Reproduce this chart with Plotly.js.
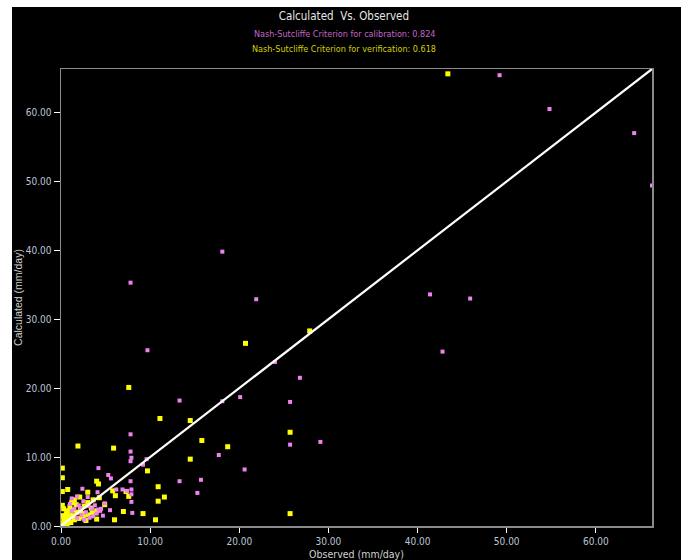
<!DOCTYPE html>
<html>
<head>
<meta charset="utf-8">
<script src="https://cdn.plot.ly/plotly-3.0.1.min.js"></script>
<style>
  html, body { margin: 0; padding: 0; background: #ffffff; width: 685px; height: 560px; overflow: hidden; }
  #chart { position: absolute; left: 12px; top: 7px; width: 669px; height: 553px; background: #000; }
</style>
</head>
<body>
<div id="chart"></div>
<script>
// Calibration (violet) observed / calculated, mm/day
const calibObserved = [66.3, 64.3, 54.8, 49.2, 41.4, 45.9, 42.8, 18.1, 21.9, 7.8, 9.7, 24.0, 26.8, 13.3, 18.1, 20.1, 25.7, 25.7, 29.1, 17.7, 9.6, 9.2, 20.6, 13.3, 15.7, 15.3, 7.8, 7.8, 7.9, 7.8, 4.2, 5.3, 5.6, 7.8, 2.4, 6.2, 6.9, 7.4, 7.9, 4.1, 7.9, 1.8, 1.2, 7.9, 4.9, 3.1, 5.5, 4.2, 8.0, 4.4, 1.5, 2.0, 2.5, 3.0, 2.8, 3.5, 4.0, 4.5, 3.8, 2.3, 1.2, 4.7, 3.2, 2.6, 1.8, 1.0, 2.2, 3.6];
const calibCalculated = [49.4, 57.0, 60.5, 65.4, 33.6, 33.0, 25.3, 39.8, 32.9, 35.3, 25.5, 23.8, 21.5, 18.2, 18.1, 18.7, 18.0, 11.8, 12.2, 10.3, 9.7, 8.9, 8.2, 6.5, 6.7, 4.8, 13.3, 10.8, 9.9, 9.4, 8.4, 7.4, 6.9, 6.5, 5.4, 5.3, 5.3, 5.1, 5.3, 4.9, 4.6, 4.3, 4.0, 3.5, 3.3, 2.9, 2.3, 2.4, 1.9, 2.2, 2.5, 3.0, 3.6, 4.2, 2.0, 2.5, 1.8, 2.5, 3.0, 1.6, 2.2, 1.5, 1.2, 0.9, 1.2, 3.2, 2.6, 1.4];

// Verification (yellow) observed / calculated, mm/day
const verifObserved = [43.4, 20.7, 27.9, 7.6, 11.1, 14.5, 15.8, 18.7, 25.7, 14.5, 9.7, 10.9, 11.6, 10.9, 9.2, 10.6, 25.7, 1.9, 5.9, 0.15, 0.15, 4.0, 4.2, 0.75, 5.8, 7.3, 3.0, 0.15, 6.1, 7.6, 4.3, 4.9, 7.0, 6.0, 4.0, 0.15, 0.2, 0.3, 0.5, 0.6, 0.8, 1.0, 1.2, 1.5, 0.4, 0.9, 1.3, 1.8, 2.2, 2.6, 3.0, 1.5, 2.0, 2.5, 3.0, 3.5, 1.1, 0.7, 0.1, 0.2, 0.3, 2.8, 3.4, 4.0, 3.6, 2.1, 1.7, 0.5, 1.0, 0.3, 1.4, 2.4];
const verifCalculated = [65.6, 26.5, 28.3, 20.1, 15.6, 15.3, 12.4, 11.5, 13.6, 9.7, 8.0, 5.7, 4.2, 3.6, 1.8, 0.9, 1.8, 11.6, 11.3, 8.4, 7.0, 6.5, 6.1, 5.3, 5.1, 5.0, 4.9, 5.0, 4.4, 4.3, 4.1, 3.1, 2.1, 0.9, 1.0, 3.0, 0.3, 0.8, 1.2, 1.8, 2.2, 2.8, 3.4, 3.8, 0.4, 1.0, 1.5, 2.0, 2.4, 2.9, 3.4, 0.9, 1.1, 1.3, 1.6, 1.9, 0.5, 0.2, 0.1, 1.5, 2.5, 0.8, 2.6, 2.2, 3.8, 4.2, 3.1, 0.6, 1.5, 0.1, 2.3, 1.8];

// 1:1 line
const lineX = [0, 66.3];
const lineY = [0, 66.3];

const tickVals = [0, 10, 20, 30, 40, 50, 60];
const tickText = ['0.00', '10.00', '20.00', '30.00', '40.00', '50.00', '60.00'];

const titleText = 'Calculated  Vs. Observed';
const calibText = 'Nash-Sutcliffe Criterion for calibration: 0.824';
const verifText = 'Nash-Sutcliffe Criterion for verification: 0.618';
const xTitle = 'Observed (mm/day)';
const yTitle = 'Calculated (mm/day)';

const narrow = 'Liberation Sans Narrow, DejaVu Sans Condensed, Arial Narrow, sans-serif';
const tickFont = { family: narrow, size: 10, color: '#bcc6d6' };

const traces = [
  {
    x: verifObserved, y: verifCalculated, type: 'scatter', mode: 'markers',
    marker: { symbol: 'square', size: 5, color: '#ffff00', line: { width: 0 } },
    hoverinfo: 'x+y', showlegend: false
  },
  {
    x: calibObserved, y: calibCalculated, type: 'scatter', mode: 'markers',
    marker: { symbol: 'square', size: 4, color: '#ee82ee', line: { width: 0 } },
    hoverinfo: 'x+y', showlegend: false
  },
  {
    x: lineX, y: lineY, type: 'scatter', mode: 'lines',
    line: { color: '#ffffff', width: 2.2 },
    hoverinfo: 'skip', showlegend: false
  }
];

const layout = {
  width: 669, height: 553,
  paper_bgcolor: '#000000', plot_bgcolor: '#000000',
  margin: { l: 49, r: 29, t: 62, b: 34 },
  title: {
    text: titleText, xref: 'container', x: 0.496, xanchor: 'center',
    yref: 'container', y: 0.984, yanchor: 'middle',
    font: { family: narrow, size: 11.5, color: '#e6e6e6' }
  },
  xaxis: {
    range: [0, 66.3], tickvals: tickVals, ticktext: tickText,
    showgrid: false, zeroline: false,
    showline: true, mirror: true, linecolor: '#8a8a8a', linewidth: 1.5,
    ticks: 'outside', ticklen: 5, tickcolor: '#ffffff', tickwidth: 1,
    tickfont: tickFont,
    title: { text: xTitle, font: { family: narrow, size: 10.5, color: '#d0d0d0' }, standoff: 11 }
  },
  yaxis: {
    range: [0, 66.3], tickvals: tickVals, ticktext: tickText,
    showgrid: false, zeroline: false,
    showline: true, mirror: true, linecolor: '#8a8a8a', linewidth: 1.5,
    ticks: 'outside', ticklen: 6, tickcolor: '#ffffff', tickwidth: 1,
    tickfont: tickFont,
    title: { text: yTitle, font: { family: 'Liberation Sans, Arial, sans-serif', size: 10.5, color: '#d0d0d0' }, standoff: 8 }
  },
  annotations: [
    { text: calibText, xref: 'paper', yref: 'paper', x: 0.479, y: 1.077, xanchor: 'center', yanchor: 'middle',
      showarrow: false, font: { family: narrow, size: 9, color: '#c865c8' } },
    { text: verifText, xref: 'paper', yref: 'paper', x: 0.479, y: 1.044, xanchor: 'center', yanchor: 'middle',
      showarrow: false, font: { family: narrow, size: 9, color: '#d2d200' } }
  ]
};

Plotly.newPlot('chart', traces, layout, { displayModeBar: false, staticPlot: true });
</script>
</body>
</html>
